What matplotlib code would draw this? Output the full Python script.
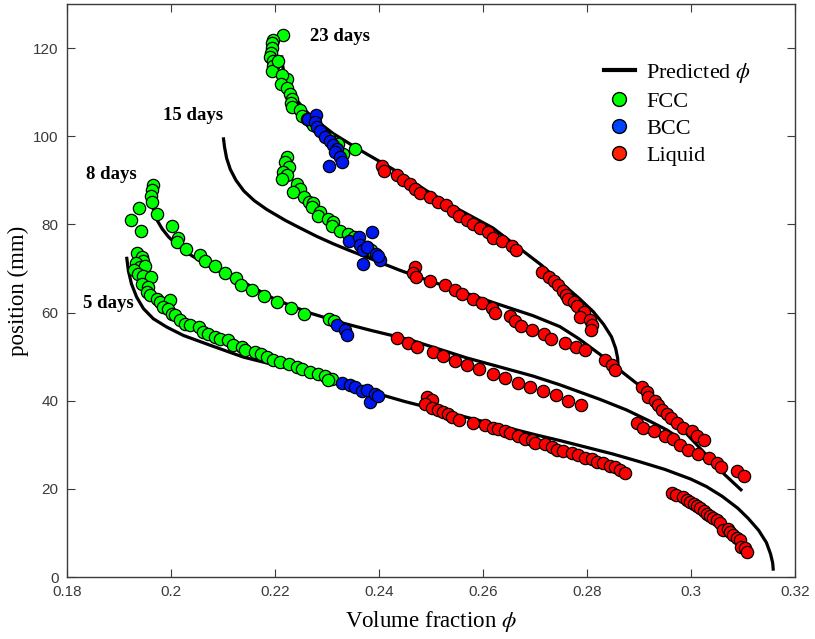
import numpy as np
import matplotlib
matplotlib.use('Agg')
import matplotlib.pyplot as plt
from matplotlib.lines import Line2D

plt.rcParams['mathtext.fontset'] = 'stix'

# predicted curves (volume fraction, position)
pred5_x = [0.1915, 0.1918, 0.1924, 0.1934, 0.1947, 0.1966, 0.1992, 0.2024, 0.2075, 0.2139, 0.2203, 0.2267,
           0.2331, 0.24, 0.245, 0.25, 0.255, 0.26, 0.265, 0.27, 0.275, 0.28, 0.285, 0.29, 0.295, 0.3,
           0.303, 0.306, 0.309, 0.311, 0.313, 0.3145, 0.3153, 0.3157, 0.3158]
pred5_y = [72.3, 69.5, 66.5, 63.5, 60.9, 58.6, 56.7, 54.8, 52.6, 49.9, 48.0, 46.1,
           44.2, 41.5, 39.8, 38.3, 36.8, 35.3, 33.8, 32.3, 30.9, 29.4, 27.9, 26.2, 24.4, 22.2,
           20.5, 18.3, 15.6, 13.3, 10.6, 7.8, 5.2, 3.2, 1.8]

pred8_x = [0.1965, 0.1968, 0.1974, 0.1983, 0.1995, 0.2011, 0.204, 0.2075, 0.211, 0.2139, 0.22, 0.2267,
           0.2331, 0.2383, 0.246, 0.2569, 0.2696, 0.2748, 0.2825, 0.2876, 0.292, 0.2953, 0.2966, 0.2971,
           0.2973]
pred8_y = [84.0, 82.5, 80.8, 79.0, 77.2, 75.4, 72.9, 70.4, 68.4, 66.9, 63.0, 59.9,
           57.6, 56.0, 53.8, 49.7, 45.6, 43.6, 40.3, 37.9, 35.4, 33.4, 32.4, 31.2,
           29.6]

pred15_x = [0.2101, 0.2103, 0.2107, 0.2114, 0.2125, 0.214, 0.216, 0.2184, 0.222, 0.2248, 0.228, 0.2312,
            0.2345, 0.2376, 0.241, 0.244, 0.2492, 0.255, 0.2619, 0.2696, 0.2748, 0.2785, 0.2825, 0.2857,
            0.29, 0.2935, 0.2966, 0.3, 0.3035, 0.3065, 0.3096]
pred15_y = [99.4, 97.5, 95.0, 92.5, 90.0, 87.6, 85.4, 83.4, 80.9, 79.2, 77.3, 75.6,
            74.0, 72.6, 71.0, 69.6, 67.4, 65.1, 62.3, 59.3, 56.8, 54.0, 50.5, 47.5,
            43.5, 39.6, 35.8, 31.4, 27.0, 23.2, 19.8]

pred23_x = [0.2213, 0.2214, 0.2217, 0.2222, 0.2229, 0.2238, 0.2248, 0.2263, 0.228, 0.2312, 0.2345, 0.2376,
            0.241, 0.244, 0.2492, 0.255, 0.2619, 0.2671, 0.2712, 0.2748, 0.2785, 0.2812, 0.2832, 0.2847,
            0.2855, 0.2859, 0.286]
pred23_y = [118.0, 116.5, 114.5, 112.5, 110.5, 108.8, 107.3, 105.3, 103.5, 100.6, 98.2, 96.0,
            93.7, 91.6, 87.6, 83.6, 79.2, 74.5, 70.8, 67.0, 63.2, 60.2, 57.3, 54.5,
            51.9, 49.6, 47.4]

# 5 days
fcc5_x = [0.1935, 0.1945, 0.1947, 0.1933, 0.1940, 0.1950, 0.1929, 0.1937, 0.1947, 0.1961, 0.1944, 0.1955,
          0.1953, 0.1960, 0.1973, 0.1978, 0.1998, 0.1985, 0.1995, 0.2001, 0.2008, 0.2017, 0.2027, 0.2037,
          0.2053, 0.2062, 0.2072, 0.2085, 0.2094, 0.2110, 0.2120, 0.2136, 0.2142, 0.2162, 0.2174, 0.2184,
          0.2197, 0.2210, 0.2226, 0.2242, 0.2251, 0.2267, 0.2283, 0.2296, 0.2309, 0.2302]
fcc5_y = [73.5, 72.6, 71.8, 71.2, 70.3, 70.5, 69.6, 68.8, 68.4, 68.0, 66.5, 65.8,
          64.6, 63.9, 63.1, 62.4, 62.8, 61.2, 60.9, 59.7, 59.4, 58.2, 57.5, 57.1,
          56.7, 55.6, 55.2, 54.4, 53.9, 53.7, 52.7, 52.2, 51.4, 51.0, 50.7, 49.9,
          49.2, 48.8, 48.3, 47.6, 47.1, 46.5, 46.1, 45.5, 45.0, 44.6]
bcc5_x = [0.2328, 0.2344, 0.2354, 0.2367, 0.2376, 0.2383, 0.2392, 0.2399]
bcc5_y = [44.0, 43.5, 43.0, 42.2, 42.5, 39.7, 41.6, 41.0]
liq5_x = [0.2492, 0.2501, 0.2489, 0.2501, 0.2514, 0.2524, 0.2533, 0.2540, 0.2554, 0.2581, 0.2604, 0.2620,
          0.2629, 0.2642, 0.2652, 0.2668, 0.2681, 0.2694, 0.2700, 0.2719, 0.2732, 0.2742, 0.2753, 0.2771,
          0.2783, 0.2796, 0.2809, 0.2819, 0.2831, 0.2844, 0.2854, 0.2864, 0.2873,
          0.2963, 0.2972, 0.2985, 0.2992, 0.2998, 0.3005, 0.3011, 0.3017, 0.3024, 0.3030, 0.3037, 0.3043,
          0.3049, 0.3056, 0.3062, 0.3072, 0.3075, 0.3081, 0.3088, 0.3094, 0.3097, 0.3104, 0.3107]
liq5_y = [40.8, 40.1, 39.2, 38.4, 38.0, 37.4, 36.9, 36.2, 35.6, 35.0, 34.6, 33.9,
          33.5, 33.2, 32.6, 31.9, 31.4, 31.0, 30.4, 30.1, 29.5, 28.9, 28.5, 28.2,
          27.6, 27.1, 26.7, 26.1, 25.8, 25.1, 24.9, 24.2, 23.5,
          19.1, 18.6, 18.1, 17.4, 17.1, 16.5, 16.1, 15.6, 15.0, 14.4, 13.8, 13.3,
          12.9, 12.3, 10.6, 11.0, 10.1, 9.5, 8.8, 8.4, 6.9, 6.5, 5.7]

# 8 days
fcc8_x = [0.1923, 0.1939, 0.1942, 0.1965, 0.1963, 0.1962, 0.1963, 0.1974, 0.2001, 0.2014, 0.2011, 0.2029,
          0.2055, 0.2065, 0.2085, 0.2104, 0.2125, 0.2135, 0.2155, 0.2179, 0.2203, 0.2231, 0.2255, 0.2304,
          0.2314]
fcc8_y = [81.0, 83.7, 78.5, 89.0, 87.8, 86.5, 85.0, 82.4, 79.7, 77.0, 76.0, 74.5,
          73.1, 71.8, 70.5, 69.0, 67.9, 66.3, 65.2, 63.8, 62.4, 61.1, 59.7, 58.5,
          58.1]
bcc8_x = [0.2320, 0.2334, 0.2339]
bcc8_y = [57.1, 56.1, 55.0]
liq8_x = [0.2434, 0.2456, 0.2473, 0.2503, 0.2524, 0.2546, 0.2569, 0.2592, 0.2619, 0.2642, 0.2668, 0.2690,
          0.2715, 0.2740, 0.2764, 0.2789,
          0.2896, 0.2908, 0.2929, 0.2950, 0.2966, 0.2979, 0.2995, 0.3014, 0.3035, 0.3049, 0.3057, 0.3088,
          0.3102]
liq8_y = [54.3, 53.1, 52.2, 51.0, 50.1, 49.0, 48.2, 47.1, 46.1, 45.2, 44.0, 43.0,
          42.1, 41.2, 39.9, 39.1,
          35.0, 33.9, 33.1, 31.9, 31.2, 29.9, 28.9, 28.0, 27.1, 25.9, 25.0, 24.1,
          22.9]

# 15 days
fcc15_x = [0.2223, 0.2219, 0.2226, 0.2216, 0.2223, 0.2213, 0.2242, 0.2248, 0.2234, 0.2255, 0.2266, 0.2274,
           0.2271, 0.2287, 0.2283, 0.2301, 0.2312, 0.2309, 0.2325, 0.2341, 0.2351, 0.2360, 0.2376, 0.2384]
fcc15_y = [95.2, 94.1, 93.0, 91.8, 91.1, 90.3, 89.2, 88.1, 87.3, 86.2, 85.0, 84.8,
           83.9, 82.8, 82.0, 81.3, 80.5, 79.7, 78.6, 77.9, 77.1, 76.3, 74.8, 74.1]
bcc15_x = [0.2342, 0.2362, 0.2386, 0.2363, 0.2370, 0.2376, 0.2395, 0.2402, 0.2369, 0.2399]
bcc15_y = [76.3, 77.1, 78.2, 75.4, 74.1, 74.8, 73.2, 72.0, 71.1, 72.9]
liq15_x = [0.2469, 0.2466, 0.2471, 0.2499, 0.2527, 0.2546, 0.2559, 0.2580, 0.2599, 0.2617, 0.2624, 0.2651,
           0.2662, 0.2674, 0.2694, 0.2718, 0.2730, 0.2758, 0.2779, 0.2796, 0.2835, 0.2848, 0.2854,
           0.2905, 0.2915, 0.2918, 0.2931, 0.2937, 0.2944, 0.2953, 0.2961, 0.2973, 0.2985, 0.3001, 0.3011,
           0.3024]
liq15_y = [70.3, 68.9, 68.0, 67.1, 66.2, 65.2, 64.1, 63.1, 62.2, 61.1, 59.9, 59.2,
           58.1, 56.9, 56.1, 55.2, 54.1, 53.2, 52.2, 51.4, 49.2, 48.0, 46.9,
           43.1, 42.0, 40.8, 39.9, 39.0, 37.8, 36.9, 36.0, 35.0, 33.9, 33.2, 31.9,
           31.0]

# 23 days
fcc23_x = [0.2216, 0.2197, 0.2194, 0.2194, 0.2192, 0.2190, 0.2196, 0.2196, 0.2194, 0.2206, 0.2223, 0.2213,
           0.2211, 0.2224, 0.2228, 0.2232, 0.2231, 0.2232, 0.2248, 0.2251, 0.2262, 0.2269, 0.2274, 0.2303,
           0.2322, 0.2331, 0.2354]
fcc23_y = [122.9, 121.9, 121.1, 120.0, 119.0, 118.0, 117.1, 116.0, 114.9, 117.0, 113.0, 113.9,
           111.8, 110.9, 109.6, 108.4, 107.5, 106.7, 106.0, 104.7, 104.0, 103.2, 102.5, 99.7,
           98.3, 96.0, 97.1]
bcc23_x = [0.2264, 0.2279, 0.2277, 0.2280, 0.2287, 0.2296, 0.2306, 0.2312, 0.2319, 0.2315, 0.2325, 0.2328,
           0.2303]
bcc23_y = [103.9, 104.9, 103.2, 102.2, 101.3, 99.9, 99.0, 98.1, 97.1, 96.4, 95.2, 94.1,
           93.3]
liq23_x = [0.2405, 0.2410, 0.2434, 0.2447, 0.2460, 0.2469, 0.2478, 0.2499, 0.2514, 0.2529, 0.2542, 0.2554,
           0.2570, 0.2581, 0.2594, 0.2610, 0.2619, 0.2636, 0.2655, 0.2664,
           0.2713, 0.2726, 0.2737, 0.2745, 0.2753, 0.2760, 0.2764, 0.2774, 0.2780, 0.2795, 0.2787, 0.2805,
           0.2809, 0.2808]
liq23_y = [93.3, 92.1, 91.1, 90.1, 89.2, 88.1, 87.1, 86.2, 85.0, 84.3, 83.1, 82.0,
           81.1, 80.0, 79.2, 78.2, 76.9, 76.2, 75.2, 74.1,
           69.2, 68.0, 67.1, 66.2, 65.0, 64.0, 63.1, 62.4, 61.4, 60.1, 59.1, 58.2,
           57.1, 56.0]

day_labels = ['5 days', '8 days', '15 days', '23 days']
label_x = [0.1831, 0.1837, 0.1985, 0.2267]
label_y = [62.0, 91.4, 104.7, 122.6]

green = '#00ff00'
blue = '#0018f0'
red = '#ff0000'

fig = plt.figure(figsize=(8.15, 6.39), dpi=100)
ax = fig.add_axes([0.0822, 0.097, 0.8933, 0.8967])

for px, py in [(pred5_x, pred5_y), (pred8_x, pred8_y), (pred15_x, pred15_y), (pred23_x, pred23_y)]:
    ax.plot(px, py, color='black', lw=2.3, zorder=2, solid_joinstyle='round')

ms = 78
ew = 0.9
for fx, fy in [(fcc5_x, fcc5_y), (fcc8_x, fcc8_y), (fcc15_x, fcc15_y), (fcc23_x, fcc23_y)]:
    ax.scatter(fx, fy, s=ms, c=green, edgecolors='black', linewidths=ew, zorder=3)
for bx, by in [(bcc5_x, bcc5_y), (bcc8_x, bcc8_y), (bcc15_x, bcc15_y), (bcc23_x, bcc23_y)]:
    ax.scatter(bx, by, s=ms, c=blue, edgecolors='black', linewidths=ew, zorder=3)
for rx, ry in [(liq5_x, liq5_y), (liq8_x, liq8_y), (liq15_x, liq15_y), (liq23_x, liq23_y)]:
    ax.scatter(rx, ry, s=ms, c=red, edgecolors='black', linewidths=ew, zorder=3)

for lab, lx, ly in zip(day_labels, label_x, label_y):
    ax.text(lx, ly, lab, fontsize=13.5, fontweight='bold', family='Liberation Serif',
            ha='left', va='center')

ax.set_xlim(0.18, 0.32)
ax.set_ylim(0, 130)
ax.set_xticks([0.18, 0.2, 0.22, 0.24, 0.26, 0.28, 0.3, 0.32])
ax.set_xticklabels(['0.18', '0.2', '0.22', '0.24', '0.26', '0.28', '0.3', '0.32'])
ax.set_yticks([0, 20, 40, 60, 80, 100, 120])
ax.tick_params(direction='in', top=True, right=True, length=6, width=0.8,
               labelsize=11, colors='#3a3a3a', pad=6)
for lab in ax.get_xticklabels() + ax.get_yticklabels():
    lab.set_family('Liberation Sans')
for sp in ax.spines.values():
    sp.set_color('#3a3a3a')
    sp.set_linewidth(1.0)

ax.set_xlabel(r'Volume fraction $\phi$', fontsize=16.5, family='Liberation Serif', labelpad=7)
ax.set_ylabel('position (mm)', fontsize=16.5, family='Liberation Serif', labelpad=3)

handles = [Line2D([0], [0], color='black', lw=3),
           Line2D([0], [0], marker='o', ls='none', markersize=10, markerfacecolor=green, markeredgecolor='black'),
           Line2D([0], [0], marker='o', ls='none', markersize=10, markerfacecolor='#0044ff', markeredgecolor='black'),
           Line2D([0], [0], marker='o', ls='none', markersize=10, markerfacecolor='#ff2200', markeredgecolor='black')]
ax.legend(handles, [r'Predicted $\phi$', 'FCC', 'BCC', 'Liquid'], loc='upper left',
          bbox_to_anchor=(0.71, 0.935), frameon=False, handlelength=1.4, handletextpad=0.5,
          labelspacing=0.28, prop={'family': 'Liberation Serif', 'size': 16})

fig.savefig('out.png', dpi=100)
